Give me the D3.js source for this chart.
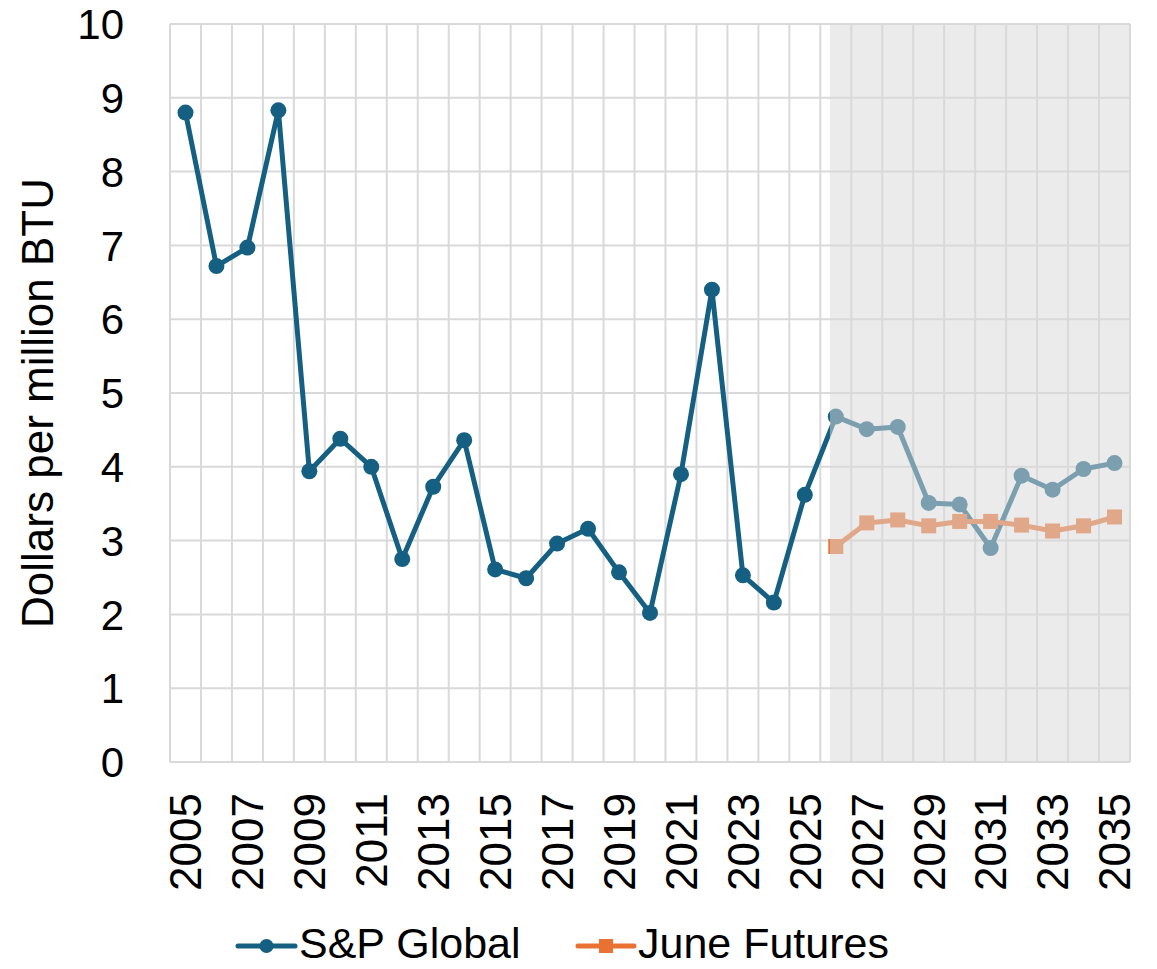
<!DOCTYPE html>
<html>
<head>
<meta charset="utf-8">
<script src="https://cdn.jsdelivr.net/npm/d3@7"></script>
<style>
  html, body { margin: 0; padding: 0; background: #fff; }
  svg { display: block; font-family: "Liberation Sans", Arial, sans-serif; }
</style>
</head>
<body>
<svg id="chart" width="1157" height="969"></svg>
<script>
const years = ["2005","2006","2007","2008","2009","2010","2011","2012","2013","2014",
  "2015","2016","2017","2018","2019","2020","2021","2022","2023","2024",
  "2025","2026","2027","2028","2029","2030","2031","2032","2033","2034","2035"];
const spGlobal = [8.80, 6.72, 6.97, 8.83, 3.94, 4.38, 4.00, 2.75, 3.73, 4.36,
  2.61, 2.49, 2.96, 3.16, 2.57, 2.02, 3.90, 6.40, 2.53, 2.16,
  3.62, 4.68, 4.51, 4.54, 3.51, 3.49, 2.90, 3.88, 3.69, 3.97, 4.05];
const futuresYears = ["2026","2027","2028","2029","2030","2031","2032","2033","2034","2035"];
const juneFutures = [2.92, 3.24, 3.28, 3.20, 3.26, 3.26, 3.21, 3.13, 3.20, 3.32];
const yTicks = [0,1,2,3,4,5,6,7,8,9,10];
const xTickLabels = ["2005","2007","2009","2011","2013","2015","2017","2019","2021","2023",
  "2025","2027","2029","2031","2033","2035"];
const forecastStart = "2026";
const seriesNames = ["S&P Global", "June Futures"];

const svg = d3.select("#chart");
const pLeft = 170, pRight = 1130, pTop = 24, pBottom = 762;

const x = d3.scaleBand().domain(years).range([pLeft, pRight]).padding(0);
const y = d3.scaleLinear().domain([0, 10]).range([pBottom, pTop]);
const bw = x.bandwidth();
const cx = d => x(d) + bw / 2;

const grid = "#D9D9D9";
const blue = "#156082";
const orange = "#E97132";

// horizontal gridlines
svg.append("g").selectAll("line").data(yTicks).join("line")
  .attr("x1", pLeft).attr("x2", pRight)
  .attr("y1", d => y(d)).attr("y2", d => y(d))
  .attr("stroke", grid).attr("stroke-width", 2);

// vertical gridlines at band boundaries
const vEdges = years.map(d => x(d)).concat([pRight]);
svg.append("g").selectAll("line").data(vEdges).join("line")
  .attr("x1", d => d).attr("x2", d => d)
  .attr("y1", pTop).attr("y2", pBottom)
  .attr("stroke", grid).attr("stroke-width", 2);

// y axis labels
const yAxis = d3.axisLeft(y).tickValues(yTicks).tickSize(0).tickPadding(0).tickFormat(d3.format("d"));
const yg = svg.append("g").attr("transform", `translate(${pLeft - 46},0)`).call(yAxis);
yg.select(".domain").remove();
yg.selectAll("text").attr("font-size", 42).attr("fill", "#000")
  .attr("font-family", '"Liberation Sans", Arial, sans-serif').attr("dy", "0.35em");

// x axis labels (rotated)
const xAxis = d3.axisBottom(x).tickValues(xTickLabels).tickSize(0).tickPadding(0);
const xg = svg.append("g").attr("transform", `translate(0,${pBottom})`).call(xAxis);
xg.select(".domain").remove();
xg.selectAll("text")
  .attr("font-size", 44).attr("fill", "#000")
  .attr("font-family", '"Liberation Sans", Arial, sans-serif')
  .attr("transform", "rotate(-90)")
  .attr("text-anchor", "end")
  .attr("x", -31).attr("y", 0).attr("dy", "0.36em");

// y axis title
svg.append("text")
  .attr("transform", `translate(53,${(pTop + pBottom) / 2 + 10}) rotate(-90)`)
  .attr("text-anchor", "middle")
  .attr("font-size", 44).attr("fill", "#000")
  .text("Dollars per million BTU");

// S&P Global line
const spData = years.map((d, i) => ({ year: d, v: spGlobal[i] }));
const line = d3.line().x(d => cx(d.year)).y(d => y(d.v));
svg.append("path").datum(spData).attr("d", line)
  .attr("fill", "none").attr("stroke", blue).attr("stroke-width", 5)
  .attr("stroke-linejoin", "round");
svg.append("g").selectAll("circle").data(spData).join("circle")
  .attr("cx", d => cx(d.year)).attr("cy", d => y(d.v)).attr("r", 8)
  .attr("fill", blue);

// June Futures line
const fData = futuresYears.map((d, i) => ({ year: d, v: juneFutures[i] }));
svg.append("path").datum(fData).attr("d", line)
  .attr("fill", "none").attr("stroke", orange).attr("stroke-width", 5)
  .attr("stroke-linejoin", "round");
const sq = 15;
svg.append("g").selectAll("rect").data(fData).join("rect")
  .attr("x", d => cx(d.year) - sq / 2).attr("y", d => y(d.v) - sq / 2)
  .attr("width", sq).attr("height", sq).attr("fill", orange);

// forecast shading overlay
const shadeX = x(forecastStart) + bw * 0.31;
svg.append("rect")
  .attr("x", shadeX).attr("y", pTop)
  .attr("width", pRight - shadeX).attr("height", pBottom - pTop)
  .attr("fill", "rgb(216,216,216)").attr("fill-opacity", 0.52);

// legend
const lg = svg.append("g");
const legY = 946;
const legBase = 958;
lg.append("line").attr("x1", 238).attr("x2", 295).attr("y1", legY).attr("y2", legY)
  .attr("stroke", blue).attr("stroke-width", 5).attr("stroke-linecap", "round");
lg.append("circle").attr("cx", 266.5).attr("cy", legY).attr("r", 7).attr("fill", blue);
lg.append("text").attr("x", 299).attr("y", legBase)
  .attr("font-size", 43).attr("fill", "#000").text(seriesNames[0]);
lg.append("line").attr("x1", 578).attr("x2", 634).attr("y1", legY).attr("y2", legY)
  .attr("stroke", orange).attr("stroke-width", 5).attr("stroke-linecap", "round");
lg.append("rect").attr("x", 606 - 7).attr("y", legY - 7).attr("width", 14).attr("height", 14)
  .attr("fill", orange);
lg.append("text").attr("x", 638).attr("y", legBase)
  .attr("font-size", 43).attr("fill", "#000").text(seriesNames[1]);
</script>
</body>
</html>
